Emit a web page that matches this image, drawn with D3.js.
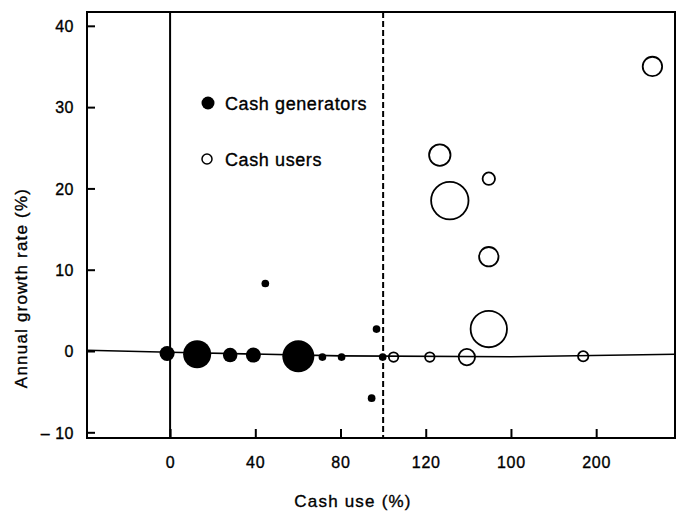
<!DOCTYPE html>
<html>
<head>
<meta charset="utf-8">
<script src="https://cdn.jsdelivr.net/npm/d3@7/dist/d3.min.js"></script>
<style>
  html, body { margin: 0; padding: 0; background: #fff; }
  svg { display: block; }
  text { font-family: "Liberation Sans", Arial, Helvetica, sans-serif; fill: #000; stroke: #000; stroke-width: 0.35px; }
</style>
</head>
<body>
<svg id="chart" width="681" height="515"></svg>
<script>
// ---- Data ----
// Cash generators (filled): cash use %, annual growth %, relative size
const genCashUse = [-1.4, 12.7, 28.2, 39.1, 60.2, 71.5, 80.5, 99.8, 96.9, 94.6, 44.7];
const genGrowth  = [-0.3, -0.4, -0.5, -0.5, -0.65, -0.75, -0.75, -0.75, 2.7, -5.8, 8.3];
const genSize    = [4.6, 16, 4.3, 4.6, 20.9, 1.2, 1.2, 1.2, 1.2, 1.2, 1.2];

// Cash users (open)
const userCashUse = [104.9, 121.9, 139.3, 193.9, 126.6, 131.3, 149.6, 149.6, 149.6, 226.4];
const userGrowth  = [-0.75, -0.75, -0.75, -0.65, 24.1, 18.5, 21.2, 11.6, 2.7, 35.0];
const userSize    = [2.5, 2.5, 6.6, 2.9, 10.8, 31, 4.0, 9.0, 29.4, 9.0];

// Zero reference line (slightly tilted in the scan)
const zeroLineX = [-39, 0, 80, 160, 237];
const zeroLineY = [0.1, -0.15, -0.6, -0.7, -0.4];

// Axis ticks (labels as printed, including "100" at the 160 position)
const xTickValues = [0, 40, 80, 120, 160, 200];
const xTickLabels = ["0", "40", "80", "120", "100", "200"];
const yTickValues = [40, 30, 20, 10, 0, -10];
const yTickLabels = ["40", "30", "20", "10", "0", "\u2013 10"];

const legendLabels = ["Cash generators", "Cash users"];
const xTitle = "Cash use (%)";
const yTitle = "Annual growth rate (%)";
const splitValue = 100;

// ---- Layout ----
const svg = d3.select("#chart");
const L = 87, R = 675, T = 12, B = 438;

const x = d3.scaleLinear().domain([-39, 237]).range([L, R]);
const y = d3.scaleLinear().domain([-10.7, 41.7]).range([B, T]);
const r = d3.scaleSqrt().domain([0, 31]).range([0, 19.5]);

// Frame
svg.append("rect")
  .attr("x", L).attr("y", T).attr("width", R - L).attr("height", B - T)
  .attr("fill", "none").attr("stroke", "#000").attr("stroke-width", 2);

// Vertical line at x = 0
svg.append("line")
  .attr("x1", x(0)).attr("x2", x(0)).attr("y1", T).attr("y2", B)
  .attr("stroke", "#000").attr("stroke-width", 2);

// Dashed line at 100 %
svg.append("line")
  .attr("x1", x(splitValue)).attr("x2", x(splitValue)).attr("y1", T).attr("y2", B)
  .attr("stroke", "#000").attr("stroke-width", 2).attr("stroke-dasharray", "6,3");

// Zero line
const zeroPts = zeroLineX.map((v, i) => [v, zeroLineY[i]]);
svg.append("path")
  .datum(zeroPts)
  .attr("d", d3.line().x(d => x(d[0])).y(d => y(d[1])))
  .attr("fill", "none").attr("stroke", "#000").attr("stroke-width", 1.6);

// X axis
const xAxis = d3.axisBottom(x)
  .tickValues(xTickValues)
  .tickFormat((d, i) => xTickLabels[i])
  .tickSize(-9).tickPadding(0);
const gx = svg.append("g").attr("transform", `translate(0,${B})`).call(xAxis);
gx.select(".domain").remove();
gx.selectAll(".tick line").attr("stroke", "#000").attr("stroke-width", 2);
gx.selectAll(".tick text")
  .attr("y", 30).attr("dy", 0)
  .style("font-size", "16px").style("letter-spacing", "0.8px")
  .attr("fill", "#000");

// Y axis
const yAxis = d3.axisLeft(y)
  .tickValues(yTickValues)
  .tickFormat((d, i) => yTickLabels[i])
  .tickSize(-8).tickPadding(0);
const gy = svg.append("g").attr("transform", `translate(${L},0)`).call(yAxis);
gy.select(".domain").remove();
gy.selectAll(".tick line").attr("stroke", "#000").attr("stroke-width", 2);
gy.selectAll(".tick text")
  .attr("x", -13).attr("dy", "0.36em")
  .style("font-size", "16px").style("letter-spacing", "0.5px")
  .attr("fill", "#000");

// Cash generators (filled)
const gens = genCashUse.map((v, i) => ({ x: v, y: genGrowth[i], s: genSize[i] }));
svg.append("g").selectAll("circle").data(gens).join("circle")
  .attr("cx", d => x(d.x)).attr("cy", d => y(d.y)).attr("r", d => r(d.s))
  .attr("fill", "#000");

// Cash users (open)
const users = userCashUse.map((v, i) => ({ x: v, y: userGrowth[i], s: userSize[i] }));
svg.append("g").selectAll("circle").data(users).join("circle")
  .attr("cx", d => x(d.x)).attr("cy", d => y(d.y)).attr("r", d => r(d.s) - 0.8)
  .attr("fill", "none").attr("stroke", "#000").attr("stroke-width", 1.8);

// Legend
const lg = svg.append("g");
lg.append("circle").attr("cx", 208).attr("cy", 103).attr("r", 6.5).attr("fill", "#000");
lg.append("circle").attr("cx", 207).attr("cy", 159).attr("r", 5)
  .attr("fill", "none").attr("stroke", "#000").attr("stroke-width", 1.5);
lg.selectAll("text").data(legendLabels).join("text")
  .attr("x", 225).attr("y", (d, i) => 110 + i * 56)
  .style("font-size", "18px").style("letter-spacing", "0.6px")
  .text(d => d);

// Axis titles
svg.append("text")
  .attr("x", 353).attr("y", 507).attr("text-anchor", "middle")
  .style("font-size", "17px").style("letter-spacing", "1.2px")
  .text(xTitle);
svg.append("text")
  .attr("transform", "translate(27,288) rotate(-90)")
  .attr("text-anchor", "middle")
  .style("font-size", "17px").style("letter-spacing", "1.2px")
  .text(yTitle);
</script>
</body>
</html>
